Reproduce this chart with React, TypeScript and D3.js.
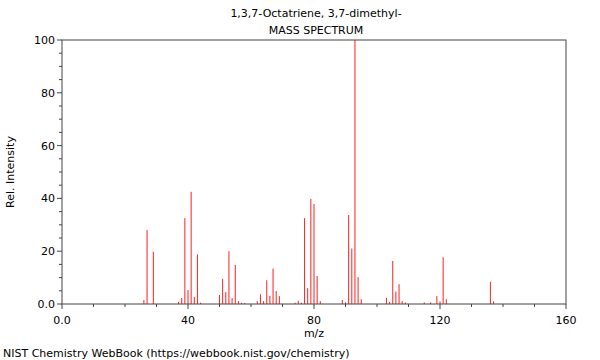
import React from "react";
import * as d3 from "d3";

const title = "1,3,7-Octatriene, 3,7-dimethyl-";
const subtitle = "MASS SPECTRUM";
const xLabel = "m/z";
const yLabel = "Rel. Intensity";
const footer = "NIST Chemistry WebBook (https://webbook.nist.gov/chemistry)";

const mz = [26, 27, 29, 37, 38, 39, 40, 41, 42, 43, 44, 50, 51, 52, 53, 54, 55, 56, 57, 58, 62, 63, 64, 65, 66, 67, 68, 69, 74, 75, 76, 77, 78, 79, 80, 81, 82, 89, 90, 91, 92, 93, 94, 95, 103, 104, 105, 106, 107, 108, 109, 115, 117, 119, 120, 121, 122, 136, 137];
const intensity = [1.5, 28, 19.8, 0.8, 2.3, 32.5, 5.3, 42.5, 2.7, 18.8, 0.5, 3.4, 9.5, 4.5, 20, 2.2, 14.8, 1.1, 0.5, 0.4, 1.1, 3.7, 1.1, 9, 3.1, 13.4, 4.9, 3.0, 0.5, 1.2, 0.5, 32.5, 6, 39.8, 37.9, 10.6, 1.1, 1.5, 0.6, 33.7, 21, 100, 10.2, 1.8, 2.4, 0.8, 16.3, 4.7, 7.5, 1.1, 0.6, 0.6, 0.6, 3, 1.0, 17.7, 1.8, 8.4, 1.0];

const xMajor = [0, 40, 80, 120, 160];
const xMajorLabels = ["0.0", "40", "80", "120", "160"];
const yMajor = [0, 20, 40, 60, 80, 100];
const yMajorLabels = ["0.0", "20", "40", "60", "80", "100"];

export default function App() {
  const W = 600, H = 360;
  const left = 62, right = 566, top = 40, bottom = 304;
  const x = d3.scaleLinear().domain([0, 160]).range([left, right]);
  const y = d3.scaleLinear().domain([0, 100]).range([bottom, top]);
  const xMinor = d3.range(0, 161, 10).filter((v) => !xMajor.includes(v));
  const yMinor = d3.range(0, 101, 5).filter((v) => !yMajor.includes(v));
  const font = "DejaVu Sans, sans-serif";
  const axisColor = "#444";
  return (
    <svg width={W} height={H} style={{ position: "absolute", left: 0, top: 0 }} fontFamily={font}>
      <rect width={W} height={H} fill="white" />
      <text x={x(80) + 2} y={17} fontSize={11} textAnchor="middle">{title}</text>
      <text x={x(80) + 2} y={34} fontSize={11} textAnchor="middle">{subtitle}</text>
      {mz.map((m, i) => (
        <line key={i} x1={x(m)} x2={x(m)} y1={y(0)} y2={y(intensity[i])} stroke="#ff2020" strokeWidth={1} />
      ))}
      <rect x={left} y={top} width={right - left} height={bottom - top} fill="none" stroke={axisColor} strokeWidth={1} />
      {xMajor.map((v, i) => (
        <g key={"xm" + i}>
          <line x1={x(v)} x2={x(v)} y1={bottom} y2={bottom + 5} stroke={axisColor} />
          <text x={x(v)} y={bottom + 20} fontSize={11} textAnchor="middle">{xMajorLabels[i]}</text>
        </g>
      ))}
      {xMinor.map((v) => (
        <line key={"xn" + v} x1={x(v)} x2={x(v)} y1={bottom} y2={bottom + 3} stroke={axisColor} />
      ))}
      {yMajor.map((v, i) => (
        <g key={"ym" + i}>
          <line x1={left - 5} x2={left} y1={y(v)} y2={y(v)} stroke={axisColor} />
          <text x={left - 7} y={y(v) + 4} fontSize={11} textAnchor="end">{yMajorLabels[i]}</text>
        </g>
      ))}
      {yMinor.map((v) => (
        <line key={"yn" + v} x1={left - 3} x2={left} y1={y(v)} y2={y(v)} stroke={axisColor} />
      ))}
      <text x={x(80)} y={337} fontSize={11} textAnchor="middle">{xLabel}</text>
      <text transform={`translate(14,${(top + bottom) / 2}) rotate(-90)`} fontSize={11} textAnchor="middle">{yLabel}</text>
      <text x={3} y={357} fontSize={11}>{footer}</text>
    </svg>
  );
}
